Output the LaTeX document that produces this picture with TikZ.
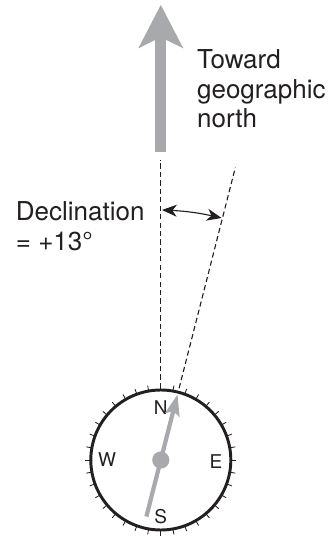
\documentclass[tikz,border=0pt]{standalone}
\usepackage{fontspec}
\setmainfont{TeX Gyre Heros}
\usetikzlibrary{arrows.meta}
\definecolor{needlegray}{HTML}{A7A9AC}
\definecolor{inkblack}{HTML}{231F20}
\tikzset{
  biglabel/.style={font=\fontsize{18.5}{21}\selectfont,text=inkblack,anchor=west,align=left,inner sep=0pt},
  dirlabel/.style={font=\fontsize{13.5}{15}\selectfont,text=inkblack,inner sep=0pt},
  refline/.style={inkblack,line width=0.8pt,dash pattern=on 3.7pt off 2.3pt},
  tickline/.style={inkblack,line width=0.6pt}
}
\begin{document}
\begin{tikzpicture}
  \useasboundingbox (-4.02,-1.9) rectangle (4.28,11.5);
  % compass
  \node[circle,draw=inkblack,line width=2.1pt,minimum size=3.5cm,inner sep=0pt] (compass) at (0,0) {};
  \foreach \a in {0,10,...,350} {
    \draw[tickline] (\a:1.74) -- (\a:1.89);
  }
  \node[dirlabel] (dirN) at (0,1.32) {N};
  \node[dirlabel] (dirW) at (-1.34,0) {W};
  \node[dirlabel] (dirE) at (1.38,-0.04) {E};
  \node[dirlabel] (dirS) at (0,-1.41) {S};

  % needle
  \coordinate (needletip) at (75.7:1.69);
  \coordinate (needletail) at (255.7:1.46);
  \draw[needlegray,line width=3pt,-{Stealth[length=0.52cm,width=0.36cm,inset=0.09cm]}] (needletail) -- (needletip);
  \node[circle,fill=needlegray,minimum size=0.43cm,inner sep=0pt] (hub) at (0,0) {};

  % reference lines
  \coordinate (truetop) at (0,7.5);
  \coordinate (truebot) at (0,1.8);
  \coordinate (magtop) at (75.7:7.55);
  \coordinate (magbot) at (75.7:1.85);
  \draw[refline] (truebot) -- (truetop);
  \draw[refline] (magbot) -- (magtop);

  % big arrow
  \coordinate (arrowtail) at (0,7.7);
  \coordinate (arrowtip) at (0,11.38);
  \draw[needlegray,line width=0.2675cm,-{Stealth[length=1.07cm,width=1.09cm,inset=0.26cm]}] (arrowtail) -- (arrowtip);

  % declination angle
  \coordinate (angleleft) at (0.03,6.25);
  \coordinate (angleright) at (1.52,6.05);
  \draw[inkblack,line width=0.8pt,{Stealth[length=0.37cm,width=0.3cm,inset=0.11cm]}-{Stealth[length=0.37cm,width=0.3cm,inset=0.11cm]}] (angleleft) to[bend left=5] (angleright);

  % labels
  \node[biglabel] (declabel) at (-3.63,5.85) {Declination\\= +13°};
  \node[biglabel] (northlabel) at (0.9,9.28) {Toward\\geographic\\north};
\end{tikzpicture}
\end{document}
